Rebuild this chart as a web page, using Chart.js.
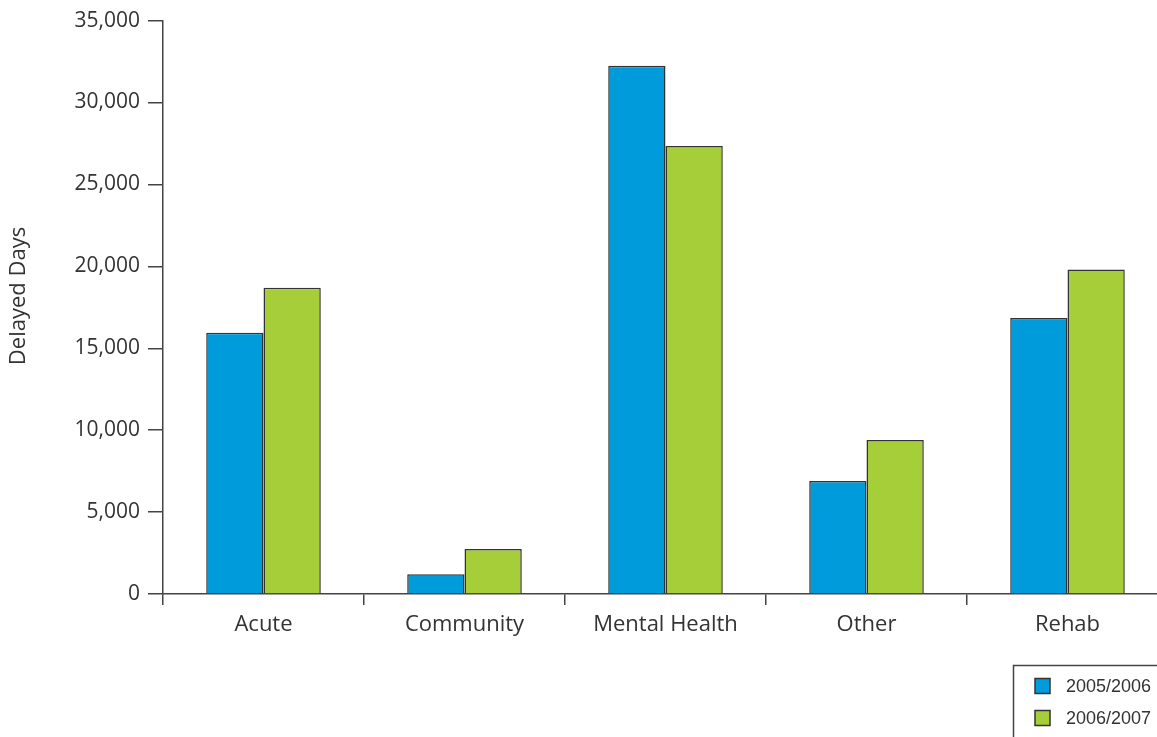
<!DOCTYPE html>
<html>
<head>
<meta charset="utf-8">
<script src="https://cdn.jsdelivr.net/npm/chart.js@4.4.1/dist/chart.umd.min.js"></script>
<style>
html,body{margin:0;padding:0;background:#fff;overflow:hidden;}
#wrap{width:1180px;height:737px;position:relative;}
</style>
</head>
<body>
<div id="wrap"><canvas id="c" width="1180" height="737"></canvas></div>
<script>
const categories = ["Acute", "Community", "Mental Health", "Other", "Rehab"];
const seriesNames = ["2005/2006", "2006/2007"];
const values2005 = [15950, 1200, 32250, 6900, 16850];
const values2006 = [18700, 2750, 27350, 9400, 19800];
const yTicks = [0, 5000, 10000, 15000, 20000, 25000, 30000, 35000];
const yTitle = "Delayed Days";
const colors = ["#009bdb", "#a6ce39"];

const FONT = '"Open Sans", sans-serif';

const legendBox = {
  id: 'legendBox',
  afterDraw(chart) {
    const ctx = chart.ctx;
    ctx.save();
    ctx.strokeStyle = '#444';
    ctx.lineWidth = 1.5;
    ctx.strokeRect(1013.5, 665.5, 200, 100);
    chart.data.datasets.forEach((ds, i) => {
      const y = 686 + i * 32;
      ctx.fillStyle = ds.backgroundColor;
      ctx.fillRect(1035, y - 7.5, 15, 15);
      ctx.strokeStyle = '#333';
      ctx.lineWidth = 1.5;
      ctx.strokeRect(1035, y - 7.5, 15, 15);
      ctx.fillStyle = '#333';
      ctx.font = '18px "Liberation Sans", Arial, sans-serif';
      ctx.textBaseline = 'middle';
      ctx.textAlign = 'left';
      ctx.fillText(ds.label, 1066, y + 1);
    });
    ctx.restore();
  }
};

const yTitlePlugin = {
  id: 'yTitlePlugin',
  afterDraw(chart) {
    const ctx = chart.ctx;
    ctx.save();
    ctx.translate(19, 296);
    ctx.rotate(-Math.PI / 2);
    ctx.fillStyle = '#333';
    ctx.font = '22px ' + FONT;
    ctx.textAlign = 'center';
    ctx.textBaseline = 'middle';
    ctx.fillText(yTitle, 0, 0);
    ctx.restore();
  }
};

new Chart(document.getElementById('c'), {
  type: 'bar',
  data: {
    labels: categories,
    datasets: [
      { label: seriesNames[0], data: values2005, backgroundColor: colors[0], borderColor: '#333', borderWidth: 1.5, categoryPercentage: 0.57, barPercentage: 1.0 },
      { label: seriesNames[1], data: values2006, backgroundColor: colors[1], borderColor: '#333', borderWidth: 1.5, categoryPercentage: 0.57, barPercentage: 1.0 }
    ]
  },
  options: {
    responsive: false,
    animation: false,
    layout: { padding: { left: 0, right: 12, top: 1, bottom: 0 } },
    plugins: { legend: { display: false }, tooltip: { enabled: false } },
    scales: {
      x: {
        offset: true,
        grid: { offset: true, drawOnChartArea: false, drawTicks: true, tickLength: 11, color: '#444', lineWidth: 1.5 },
        border: { display: true, color: '#444', width: 1.5 },
        ticks: { color: '#333', font: { family: FONT, size: 22 }, padding: 7, maxRotation: 0 },
        afterFit(scale) { scale.height = 143; }
      },
      y: {
        min: 0, max: 35000,
        afterBuildTicks(scale) { scale.ticks = yTicks.map(v => ({ value: v })); },
        grid: { drawOnChartArea: false, drawTicks: true, tickLength: 15, color: '#444', lineWidth: 1.5 },
        border: { display: true, color: '#444', width: 1.5 },
        ticks: { color: '#333', font: { family: FONT, size: 21 }, padding: 8,
          callback: v => v.toLocaleString('en-US') },
        afterFit(scale) { scale.width = 163; }
      }
    }
  },
  plugins: [legendBox, yTitlePlugin]
});
</script>
</body>
</html>
